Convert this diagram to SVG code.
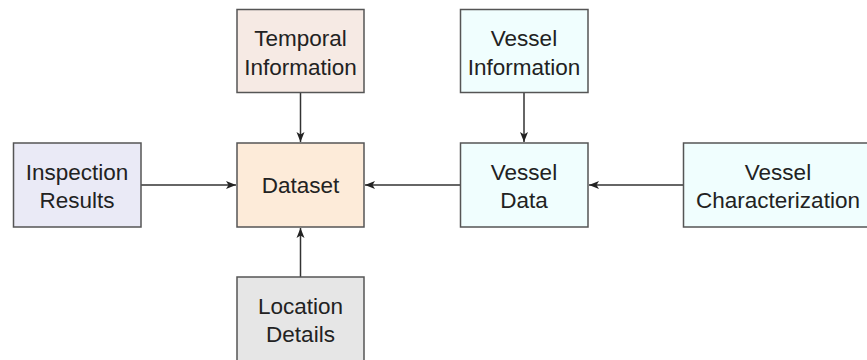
<svg xmlns="http://www.w3.org/2000/svg" width="867" height="360" viewBox="0 0 867 360">
<style>
.box{stroke:#555;stroke-width:1.5}
.t{font-family:"Liberation Sans",Arial,sans-serif;font-size:22.5px;fill:#222;text-anchor:middle}
.c{stroke:#333;stroke-width:1.5;fill:none;marker-end:url(#ah)}
</style>
<defs>
<marker id="ah" viewBox="0 0 10 10" refX="10" refY="5" markerWidth="10" markerHeight="10" markerUnits="userSpaceOnUse" orient="auto">
<path d="M0,1 L10,5 L0,9 L2.5,5 Z" fill="#222"/>
</marker>
</defs>
<rect width="867" height="360" fill="#fff"/>
<g id="connectors">
<line class="c" x1="300.5" y1="93" x2="300.5" y2="142"/>
<line class="c" x1="524" y1="93" x2="524" y2="142"/>
<line class="c" x1="141" y1="185" x2="236" y2="185"/>
<line class="c" x1="460" y1="185" x2="365" y2="185"/>
<line class="c" x1="683" y1="185" x2="589" y2="185"/>
<line class="c" x1="300.5" y1="277" x2="300.5" y2="228"/>
</g>
<g id="temporal">
<rect class="box" x="237" y="9.5" width="127" height="83" fill="#F6EAE4"/>
<text class="t" x="300.5" y="46">Temporal</text>
<text class="t" x="300.5" y="74.5">Information</text>
</g>
<g id="vessel-info">
<rect class="box" x="460.5" y="9.5" width="127.5" height="83" fill="#F0FEFE"/>
<text class="t" x="524" y="46">Vessel</text>
<text class="t" x="524" y="74.5">Information</text>
</g>
<g id="inspection">
<rect class="box" x="13.5" y="143" width="127.5" height="84" fill="#EAEAF6"/>
<text class="t" x="77" y="179.5">Inspection</text>
<text class="t" x="77" y="208">Results</text>
</g>
<g id="dataset">
<rect class="box" x="237" y="143" width="127" height="84" fill="#FDEBD9"/>
<text class="t" x="300.5" y="193">Dataset</text>
</g>
<g id="vessel-data">
<rect class="box" x="460.5" y="143" width="127.5" height="84" fill="#F0FEFE"/>
<text class="t" x="524" y="179.5">Vessel</text>
<text class="t" x="524" y="208">Data</text>
</g>
<g id="vessel-char">
<rect class="box" x="683.5" y="143" width="190" height="84" fill="#F0FEFE"/>
<text class="t" x="778" y="179.5">Vessel</text>
<text class="t" x="778" y="208">Characterization</text>
</g>
<g id="location">
<rect class="box" x="237" y="277" width="127" height="84" fill="#E6E6E6"/>
<text class="t" x="300.5" y="313.5">Location</text>
<text class="t" x="300.5" y="342">Details</text>
</g>
</svg>
